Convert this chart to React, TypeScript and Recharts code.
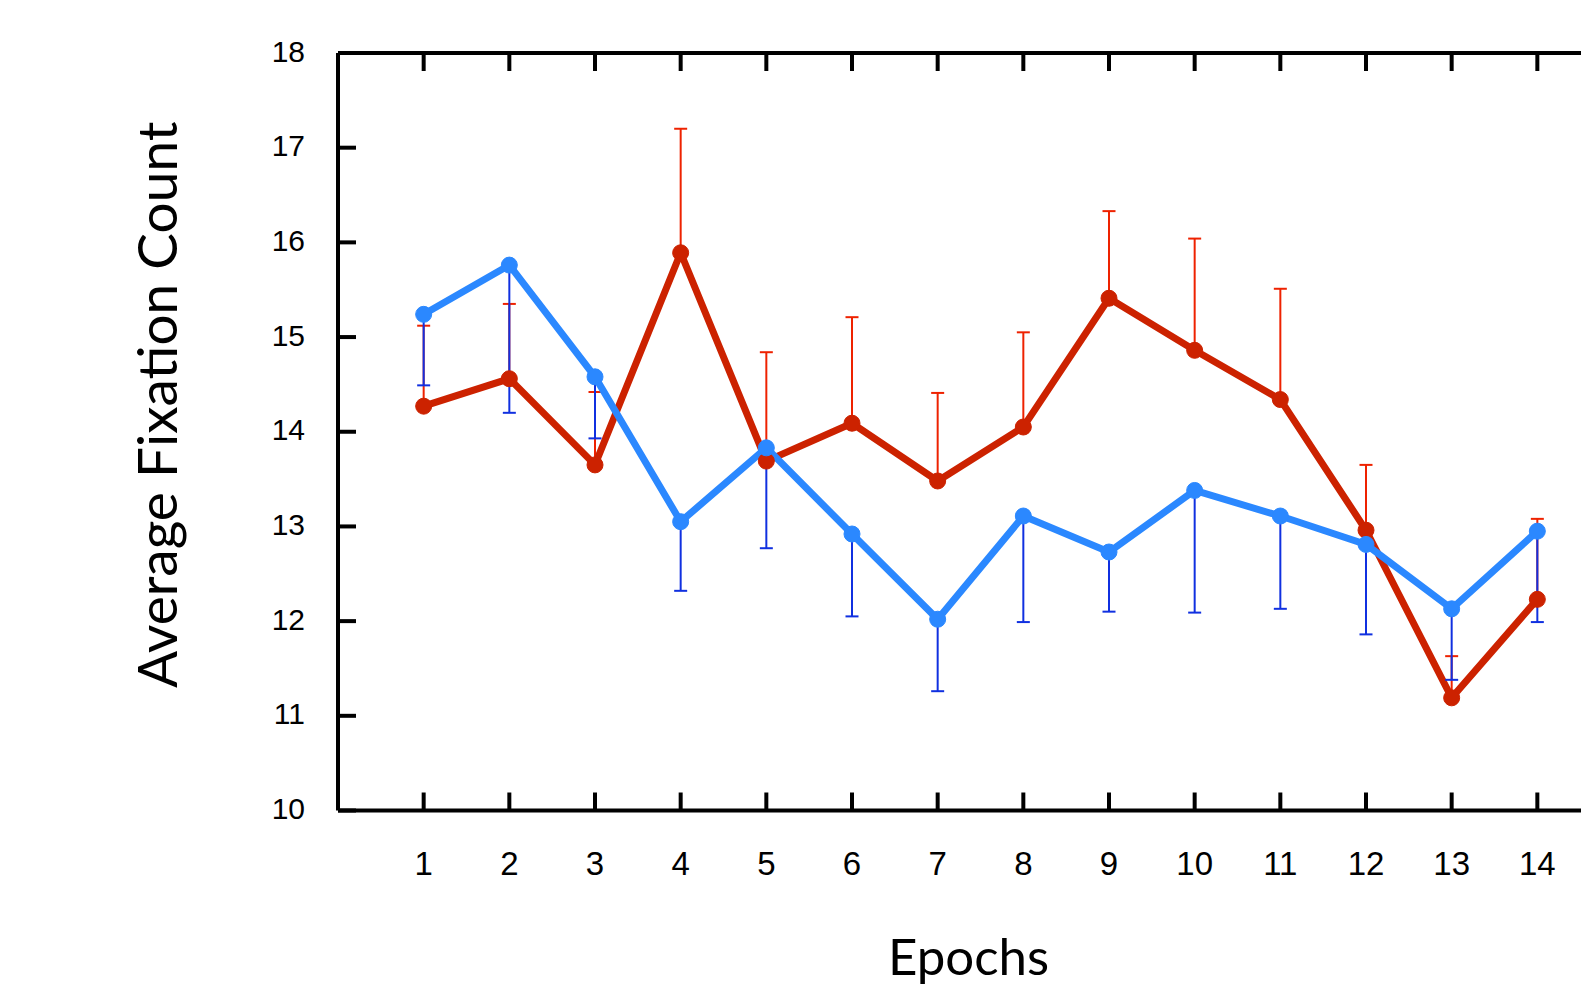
import React from "react";
import { LineChart, Line, XAxis, YAxis, ErrorBar } from "recharts";

const epochs = [1, 2, 3, 4, 5, 6, 7, 8, 9, 10, 11, 12, 13, 14];
const redMean = [14.27, 14.56, 13.65, 15.89, 13.69, 14.09, 13.48, 14.05, 15.41, 14.86, 14.34, 12.96, 11.19, 12.23];
const redUpper = [15.12, 15.35, 14.42, 17.2, 14.84, 15.21, 14.41, 15.05, 16.33, 16.04, 15.51, 13.65, 11.63, 13.08];
const blueMean = [15.24, 15.76, 14.58, 13.05, 13.83, 12.92, 12.02, 13.11, 12.73, 13.38, 13.11, 12.81, 12.13, 12.95];
const blueLower = [14.49, 14.2, 13.93, 12.32, 12.77, 12.05, 11.26, 11.99, 12.1, 12.09, 12.13, 11.86, 11.38, 11.99];
const xTicks = [1, 2, 3, 4, 5, 6, 7, 8, 9, 10, 11, 12, 13, 14];
const yTicks = [10, 11, 12, 13, 14, 15, 16, 17, 18];

const data = epochs.map((e, i) => ({
  epoch: e,
  red: redMean[i],
  redErr: [0, +(redUpper[i] - redMean[i]).toFixed(3)],
  blue: blueMean[i],
  blueErr: [+(blueMean[i] - blueLower[i]).toFixed(3), 0],
}));

const RED_LINE = "#cc2200";
const RED_ERR = "#ee2200";
const BLUE_LINE = "#2b88ff";
const BLUE_ERR = "#1030e0";
const TICK_LEN = 18;
const AXIS_W = 4;
const TICK_FONT = "'Liberation Sans', Arial, Helvetica, sans-serif";
const TITLE_FONT = "Lato, 'Open Sans', sans-serif";

const BottomTick = (props: any) => {
  const { x, y, payload } = props;
  return (
    <g>
      <line x1={x} y1={y} x2={x} y2={y - TICK_LEN} stroke="#000" strokeWidth={AXIS_W} />
      <text x={x} y={y + 53} textAnchor="middle" dominantBaseline="central" fontSize={33} fontFamily={TICK_FONT} fill="#000">
        {payload.value}
      </text>
    </g>
  );
};

const TopTick = (props: any) => {
  const { x, y } = props;
  return <line x1={x} y1={y} x2={x} y2={y + TICK_LEN} stroke="#000" strokeWidth={AXIS_W} />;
};

const LeftTick = (props: any) => {
  const { x, y, payload } = props;
  return (
    <g>
      <line x1={x} y1={y} x2={x + TICK_LEN} y2={y} stroke="#000" strokeWidth={AXIS_W} />
      <text x={x - 33} y={y - 2} textAnchor="end" dominantBaseline="central" fontSize={30} fontFamily={TICK_FONT} fill="#000">
        {payload.value}
      </text>
    </g>
  );
};

const XTitle = (props: any) => {
  const vb = props.viewBox;
  return (
    <text x={vb.x + vb.width / 2 - 12} y={975} textAnchor="middle" fontSize={51} fontFamily={TITLE_FONT} fill="#000">
      Epochs
    </text>
  );
};

const YTitle = (props: any) => {
  const vb = props.viewBox;
  const cx = 177;
  const cy = vb.y + vb.height / 2 - 27;
  return (
    <text x={cx} y={cy} transform={`rotate(-90, ${cx}, ${cy})`} textAnchor="middle" fontSize={55} fontFamily={TITLE_FONT} fill="#000">
      Average Fixation Count
    </text>
  );
};

export default function App() {
  return (
    <div style={{ position: "fixed", left: 0, top: 0, width: 1581, height: 985, overflow: "hidden", background: "#fff" }}>
      <LineChart width={1643} height={985} data={data} margin={{ top: 23, right: 20, left: 0, bottom: 0 }}>
        <XAxis
          xAxisId="bottom"
          dataKey="epoch"
          type="number"
          domain={[0, 15]}
          ticks={xTicks}
          orientation="bottom"
          height={174.5}
          tickSize={0}
          tickMargin={0}
          tickLine={false}
          axisLine={{ stroke: "#000", strokeWidth: AXIS_W }}
          tick={<BottomTick />}
          interval={0}
          allowDataOverflow
          label={<XTitle />}
        />
        <XAxis
          xAxisId="top"
          dataKey="epoch"
          type="number"
          domain={[0, 15]}
          ticks={xTicks}
          orientation="top"
          height={30}
          tickSize={0}
          tickMargin={0}
          tickLine={false}
          axisLine={{ stroke: "#000", strokeWidth: AXIS_W }}
          tick={<TopTick />}
          interval={0}
        />
        <YAxis
          type="number"
          domain={[10, 18]}
          ticks={yTicks}
          width={338}
          tickSize={0}
          tickMargin={0}
          tickLine={false}
          axisLine={{ stroke: "#000", strokeWidth: AXIS_W }}
          tick={<LeftTick />}
          interval={0}
          label={<YTitle />}
        />
        <Line
          xAxisId="bottom"
          dataKey="red"
          stroke={RED_LINE}
          strokeWidth={7}
          dot={{ r: 8, fill: RED_LINE, stroke: RED_LINE, strokeWidth: 1 }}
          activeDot={false}
          isAnimationActive={false}
        >
          <ErrorBar dataKey="redErr" direction="y" width={6.5} stroke={RED_ERR} strokeWidth={2} isAnimationActive={false} />
        </Line>
        <Line
          xAxisId="bottom"
          dataKey="blue"
          stroke={BLUE_LINE}
          strokeWidth={7}
          dot={{ r: 8, fill: BLUE_LINE, stroke: BLUE_LINE, strokeWidth: 1 }}
          activeDot={false}
          isAnimationActive={false}
        >
          <ErrorBar dataKey="blueErr" direction="y" width={6.5} stroke={BLUE_ERR} strokeWidth={2} isAnimationActive={false} />
        </Line>
      </LineChart>
    </div>
  );
}
